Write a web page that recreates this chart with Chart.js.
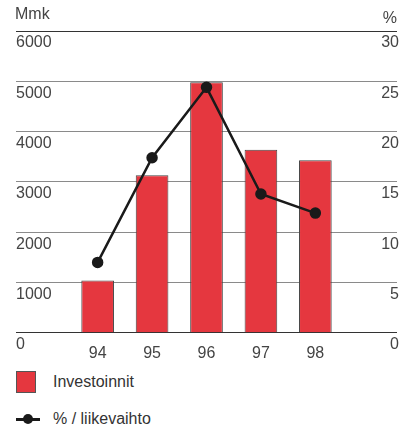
<!DOCTYPE html>
<html>
<head>
<meta charset="utf-8">
<script src="https://cdn.jsdelivr.net/npm/chart.js@4/dist/chart.umd.min.js"></script>
<style>
  html, body { margin: 0; padding: 0; background: #fff; }
  body { width: 407px; height: 430px; position: relative; overflow: hidden;
         font-family: "Liberation Sans", Arial, sans-serif; color: #444; }
  #wrap { position: absolute; left: 0; top: 0; width: 407px; height: 366px; }
  .unit { position: absolute; top: 5px; font-size: 16px; color: #444; }
  #unitLeft { left: 15px; }
  #unitRight { right: 10px; top: 9px; }
  .legend { position: absolute; left: 16px; font-size: 16px; color: #333; }
  .legend .row { display: flex; align-items: center; height: 22px; }
  .swatch { width: 20px; height: 22px; background: #e5373f; border: 1px solid #555; box-sizing: border-box; }
  .lineKey { position: relative; width: 24px; height: 3px; background: #1a1a1a; }
  .lineKey::after { content: ""; position: absolute; left: 7px; top: -3.5px; width: 10px; height: 10px;
                    border-radius: 50%; background: #1a1a1a; }
</style>
</head>
<body>
<div id="wrap"><canvas id="investChart"></canvas></div>
<div class="unit" id="unitLeft">Mmk</div>
<div class="unit" id="unitRight">%</div>
<div class="legend" style="top:371px"><div class="row"><div class="swatch"></div><span style="margin-left:17px">Investoinnit</span></div></div>
<div class="legend" style="top:408px"><div class="row"><div class="lineKey"></div><span style="margin-left:13px">% / liikevaihto</span></div></div>
<script>
// years with an empty slot on each side of the plot
const years = ['', '94', '95', '96', '97', '98', ''];
const investments = [null, 1040, 3130, 4980, 3640, 3430, null];   // Mmk
const shareOfSales = [null, 7.0, 17.4, 24.4, 13.8, 11.9, null];  // %

const leftTicks = [0, 1000, 2000, 3000, 4000, 5000, 6000];
const rightTicks = [0, 5, 10, 15, 20, 25, 30];

const tickFont = { size: 16, family: '"Liberation Sans", Arial, sans-serif' };

const gridColor = (ctx) => {
    const v = ctx.tick ? ctx.tick.value : null;
    return (v === 0 || v === 6000) ? '#333' : '#8a8a8a';
};

new Chart(document.getElementById('investChart'), {
    data: {
        labels: years,
        datasets: [
            {
                type: 'line',
                label: '% / liikevaihto',
                data: shareOfSales,
                yAxisID: 'yPct',
                borderColor: '#1a1a1a',
                backgroundColor: '#1a1a1a',
                borderWidth: 2.5,
                pointRadius: 4.5,
                pointHoverRadius: 4.5,
                tension: 0,
                order: 0
            },
            {
                type: 'bar',
                label: 'Investoinnit',
                data: investments,
                yAxisID: 'y',
                backgroundColor: '#e5373f',
                borderColor: '#444',
                borderWidth: 1,
                borderSkipped: 'bottom',
                barPercentage: 0.6,
                categoryPercentage: 1,
                order: 1
            }
        ]
    },
    options: {
        responsive: true,
        maintainAspectRatio: false,
        animation: false,
        layout: { padding: { left: 16, right: 6, top: 31, bottom: 0 } },
        plugins: { legend: { display: false }, tooltip: { enabled: false } },
        scales: {
            x: {
                grid: { display: false },
                border: { display: false },
                ticks: { color: '#444', font: tickFont, padding: 3 }
            },
            y: {
                position: 'left',
                min: 0,
                max: 6000,
                afterBuildTicks: (scale) => { scale.ticks = leftTicks.map((value) => ({ value })); },
                grid: { color: gridColor, lineWidth: 1, drawTicks: false },
                border: { display: false },
                ticks: {
                    mirror: true,
                    padding: 0,
                    labelOffset: 12,
                    color: '#444',
                    font: tickFont,
                    callback: (value) => String(value)
                }
            },
            yPct: {
                position: 'right',
                min: 0,
                max: 30,
                afterBuildTicks: (scale) => { scale.ticks = rightTicks.map((value) => ({ value })); },
                grid: { display: false, drawTicks: false },
                border: { display: false },
                ticks: {
                    mirror: true,
                    padding: 2,
                    labelOffset: 12,
                    color: '#444',
                    font: tickFont,
                    callback: (value) => String(value)
                }
            }
        }
    }
});
</script>
</body>
</html>
